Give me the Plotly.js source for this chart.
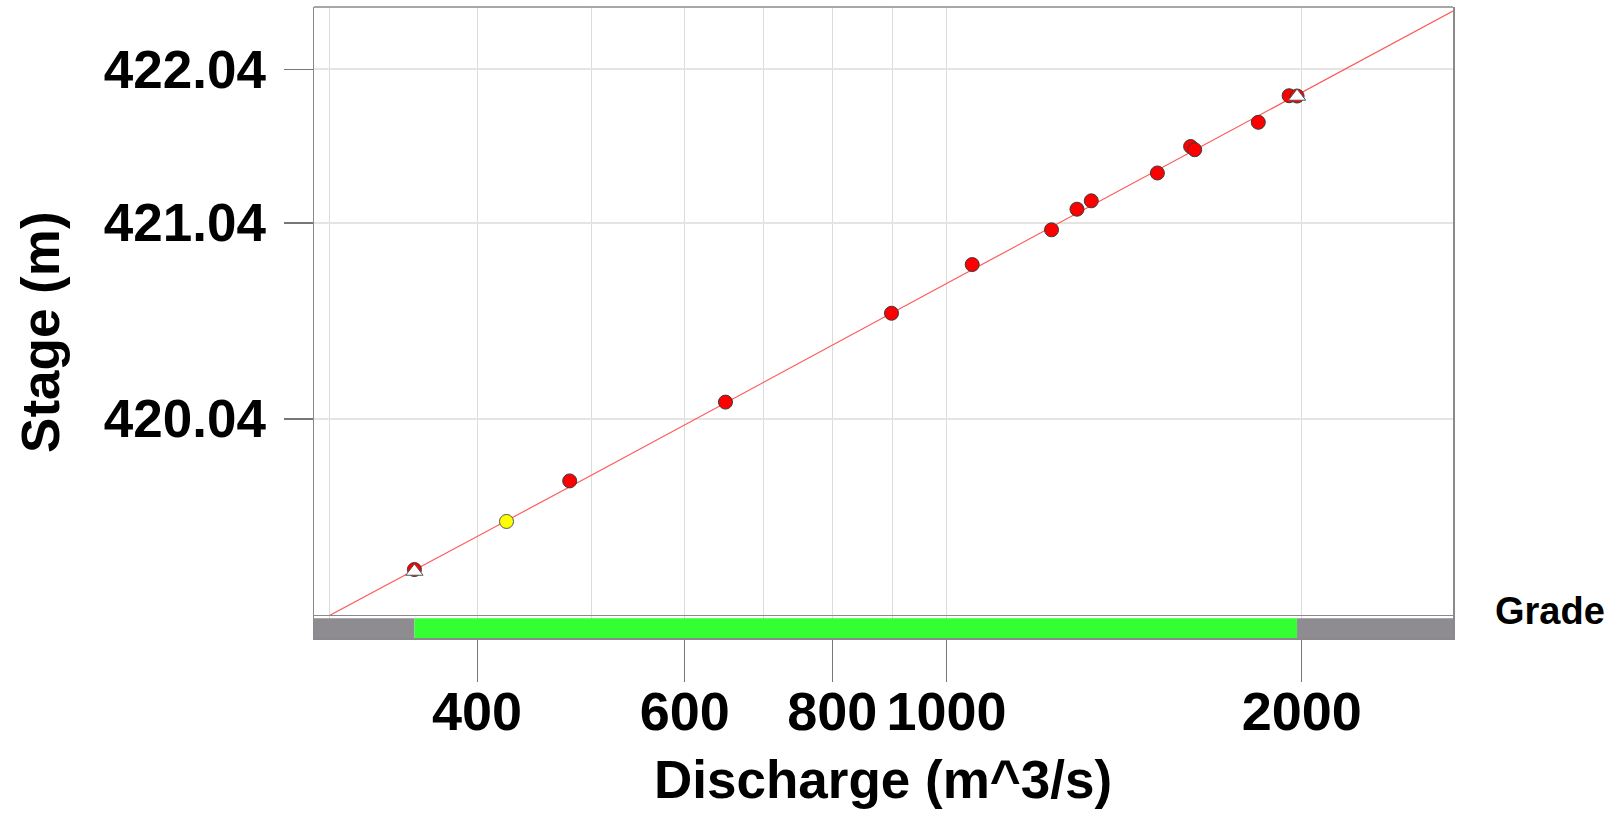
<!DOCTYPE html>
<html><head><meta charset="utf-8">
<script src="https://cdn.plot.ly/plotly-3.0.1.min.js"></script>
<style>html,body{margin:0;padding:0;background:#fff}#chart{width:1614px;height:813px}</style>
</head><body><div id="chart"></div>
<script>
// ---- data ----
const STAGE_OFFSET = 416.90;   // log-scale offset of the stage axis
const measuredQ     = [354, 479.3, 649.6, 898.2, 1051.4, 1227.4, 1289.9, 1326.4, 1509.1, 1610.2, 1623.1, 1837.6, 1951.5, 1982];
const measuredStage = [419.439, 419.777, 420.115, 420.544, 420.803, 420.999, 421.120, 421.170, 421.341, 421.510, 421.489, 421.670, 421.852, 421.850];
const flaggedQ      = [423.7];
const flaggedStage  = [419.617];
const limitQ        = [354, 1982];
const limitStage    = [419.432, 421.847];
const curveQ        = [291, 500, 1000, 2000, 2687];
const curveStage    = [419.252, 419.800, 420.700, 421.875, 422.480];
const gradeBreaks   = [291, 354, 1982, 2687];
const gradeColors   = ['#8e8b91', '#33ff33', '#8e8b91'];
const xTickVals     = [400, 600, 800, 1000, 2000];
const xTickText     = ['400', '600', '800', '1000', '2000'];
const xMinorGrid    = [300, 500, 700, 900];
const yTickStages   = [420.04, 421.04, 422.04];
const yTickText     = ['420.04', '421.04', '422.04'];
const xRangeQ       = [291, 2687];
const yRangeStage   = [419.278, 422.512];
const bandStages    = [[420.04, 421.04], [422.04, 422.512]];

const toS = v => v - STAGE_OFFSET;
const FONT = 'Liberation Sans, Arial, sans-serif';
const AX = '#8a8a8a';

const traces = [];
for (let i = 0; i < gradeColors.length; i++) {
  const a = gradeBreaks[i], b = gradeBreaks[i + 1];
  traces.push({
    type: 'scatter', mode: 'lines', xaxis: 'x', yaxis: 'y2',
    x: [a, b, b, a, a], y: [0, 0, 1, 1, 0],
    fill: 'toself', fillcolor: gradeColors[i], line: {width: 0}, hoverinfo: 'skip'
  });
}
traces.push({
  type: 'scatter', mode: 'lines', xaxis: 'x', yaxis: 'y',
  x: curveQ, y: curveStage.map(toS),
  line: {color: '#ff5a5a', width: 1.2}, hoverinfo: 'skip'
});
traces.push({
  type: 'scatter', mode: 'markers', xaxis: 'x', yaxis: 'y',
  x: measuredQ, y: measuredStage.map(toS),
  marker: {color: '#ff0000', size: 14, line: {color: '#3a3a3a', width: 1}}
});
traces.push({
  type: 'scatter', mode: 'markers', xaxis: 'x', yaxis: 'y',
  x: flaggedQ, y: flaggedStage.map(toS),
  marker: {color: '#ffff00', size: 14, line: {color: '#555', width: 1}}
});
traces.push({
  type: 'scatter', mode: 'markers', xaxis: 'x', yaxis: 'y',
  x: limitQ, y: limitStage.map(toS),
  marker: {symbol: 'triangle-up', color: '#ffffff', size: 15, line: {color: '#555', width: 1}}
});

const shapes = bandStages.map(b => ({
  type: 'rect', xref: 'paper', yref: 'y', x0: 0, x1: 1,
  y0: Math.log10(toS(b[0])), y1: Math.log10(toS(b[1])),
  fillcolor: '#f7f7f7', line: {width: 0}, layer: 'below'
}));
// top frame line of the main panel
shapes.push({type: 'line', xref: 'paper', yref: 'paper', x0: 0, x1: 1, y0: 1, y1: 1,
             line: {color: AX, width: 1.5}, layer: 'above'});

const barFrac = 22 / 631;
const layout = {
  width: 1614, height: 813,
  margin: {l: 314, r: 161, t: 7, b: 175},
  paper_bgcolor: '#ffffff', plot_bgcolor: '#ffffff',
  showlegend: false,
  font: {family: FONT, color: '#000'},
  xaxis: {
    type: 'log', anchor: 'y2',
    range: xRangeQ.map(Math.log10),
    tickmode: 'array', tickvals: xTickVals, ticktext: xTickText,
    ticks: 'outside', ticklen: 42, tickwidth: 1, tickcolor: '#777',
    ticklabelstandoff: -16,
    tickfont: {family: FONT, size: 54, weight: 'bold', color: '#000'},
    showgrid: true, gridcolor: '#dcdcdc', gridwidth: 1,
    minor: {tickmode: 'array', tickvals: xMinorGrid, showgrid: true, gridcolor: '#dcdcdc', gridwidth: 1, ticks: ''},
    showline: true, linecolor: AX, linewidth: 1.5, mirror: true,
    zeroline: false
  },
  yaxis: {
    type: 'log', domain: [barFrac, 1], anchor: 'x',
    range: yRangeStage.map(v => Math.log10(toS(v))),
    tickmode: 'array', tickvals: yTickStages.map(toS), ticktext: yTickText,
    ticks: 'outside', ticklen: 29, tickwidth: 1.5, tickcolor: '#777',
    ticklabelstandoff: 7,
    tickfont: {family: FONT, size: 53, weight: 'bold', color: '#000'},
    showgrid: true, gridcolor: '#e4e4e4', gridwidth: 2,
    showline: true, linecolor: AX, linewidth: 1.5, mirror: true,
    zeroline: false
  },
  yaxis2: {
    domain: [0, barFrac], anchor: 'x', range: [0, 1.12],
    showgrid: false, showticklabels: false, ticks: '', zeroline: false,
    showline: true, linecolor: AX, linewidth: 1.5, mirror: true
  },
  shapes: shapes,
  annotations: [
    {text: 'Discharge (m^3/s)', xref: 'paper', yref: 'paper', x: 0.4996, y: -0.2235,
     xanchor: 'center', yanchor: 'middle', showarrow: false,
     font: {family: FONT, size: 53, weight: 'bold', color: '#000'}},
    {text: 'Stage (m)', xref: 'paper', yref: 'paper', x: -0.2397, y: 0.485, textangle: -90,
     xanchor: 'center', yanchor: 'middle', showarrow: false,
     font: {family: FONT, size: 53, weight: 'bold', color: '#000'}},
    {text: 'Grade', xref: 'paper', yref: 'paper', x: 1.0351, y: 0.0428,
     xanchor: 'left', yanchor: 'middle', showarrow: false,
     font: {family: FONT, size: 38, weight: 'bold', color: '#000'}}
  ]
};

Plotly.newPlot('chart', traces, layout, {staticPlot: true, displayModeBar: false});
</script>
</body></html>
